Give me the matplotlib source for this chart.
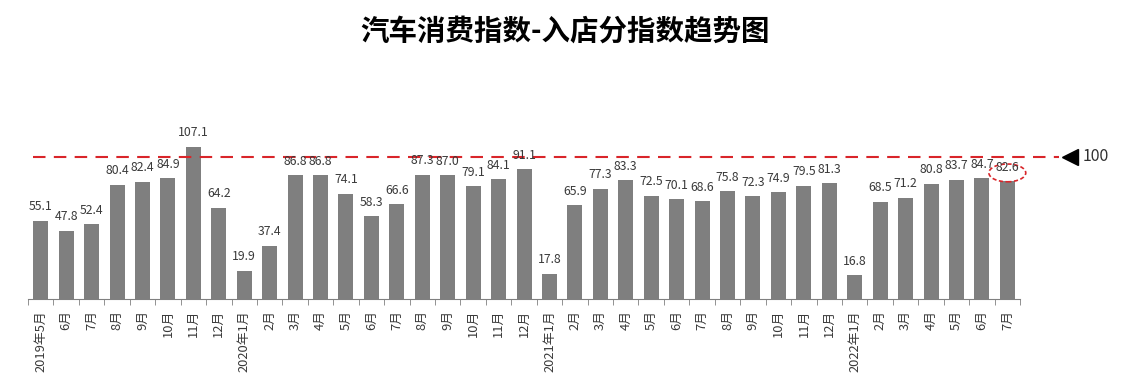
import matplotlib
matplotlib.use("Agg")
import matplotlib.pyplot as plt
from matplotlib.patches import Ellipse

plt.rcParams["font.family"] = ["Noto Sans CJK SC", "DejaVu Sans"]

TITLE = "汽车消费指数-入店分指数趋势图"

months = [
    "2019年5月", "6月", "7月", "8月", "9月", "10月", "11月", "12月",
    "2020年1月", "2月", "3月", "4月", "5月", "6月", "7月", "8月", "9月", "10月", "11月", "12月",
    "2021年1月", "2月", "3月", "4月", "5月", "6月", "7月", "8月", "9月", "10月", "11月", "12月",
    "2022年1月", "2月", "3月", "4月", "5月", "6月", "7月",
]
values = [
    55.1, 47.8, 52.4, 80.4, 82.4, 84.9, 107.1, 64.2,
    19.9, 37.4, 86.8, 86.8, 74.1, 58.3, 66.6, 87.3, 87.0, 79.1, 84.1, 91.1,
    17.8, 65.9, 77.3, 83.3, 72.5, 70.1, 68.6, 75.8, 72.3, 74.9, 79.5, 81.3,
    16.8, 68.5, 71.2, 80.8, 83.7, 84.7, 82.6,
]
reference = 100


def main() -> None:
    fig = plt.figure(figsize=(11.25, 3.89), dpi=100)
    ax = fig.add_axes([0.0249, 0.2314, 0.8818, 0.439])
    x = list(range(len(values)))
    ax.bar(x, values, width=0.59, color="#7f7f7f")

    for xi, v in zip(x, values):
        ax.annotate(f"{v:.1f}", (xi, v), xytext=(0, 14), textcoords="offset pixels",
                    ha="center", va="center", fontsize=8.8, color="#3a3a3a")

    # reference line with marker and label, extends past the axes
    ax.plot([-0.3, 40.05], [reference, reference], color="#d9252a", linestyle=(0, (6, 4)),
            linewidth=1.5, clip_on=False)
    ax.plot([40.45], [reference], marker="<", color="black", markersize=11, clip_on=False)
    ax.text(40.95, reference, str(reference), va="center", ha="left", fontsize=11.5, color="#303030")

    # highlight the latest value
    ax.add_patch(Ellipse((len(values) - 1, values[-1] + 6), 1.45, 12.5, fill=False,
                         edgecolor="#d9252a", linestyle=(0, (2.5, 1.5)), linewidth=1.2, clip_on=False))

    ax.set_xlim(-0.5, len(values) - 0.5)
    ax.set_ylim(0, 120)
    ax.set_xticks(x)
    ax.set_xticklabels(months, rotation=90, fontsize=9.3, color="#3a3a3a")
    ax.tick_params(axis="x", which="major", length=0, pad=8)
    ax.set_xticks([i - 0.5 for i in range(len(values) + 1)], minor=True)
    ax.tick_params(axis="x", which="minor", length=4, color="#808080")
    ax.set_yticks([])
    for side in ("top", "left", "right"):
        ax.spines[side].set_visible(False)
    ax.spines["bottom"].set_color("#808080")

    fig.text(0.502, 0.918, TITLE, ha="center", va="center", fontsize=20.5, fontweight="bold")
    fig.savefig("out.png", dpi=100)


if __name__ == "__main__":
    main()
